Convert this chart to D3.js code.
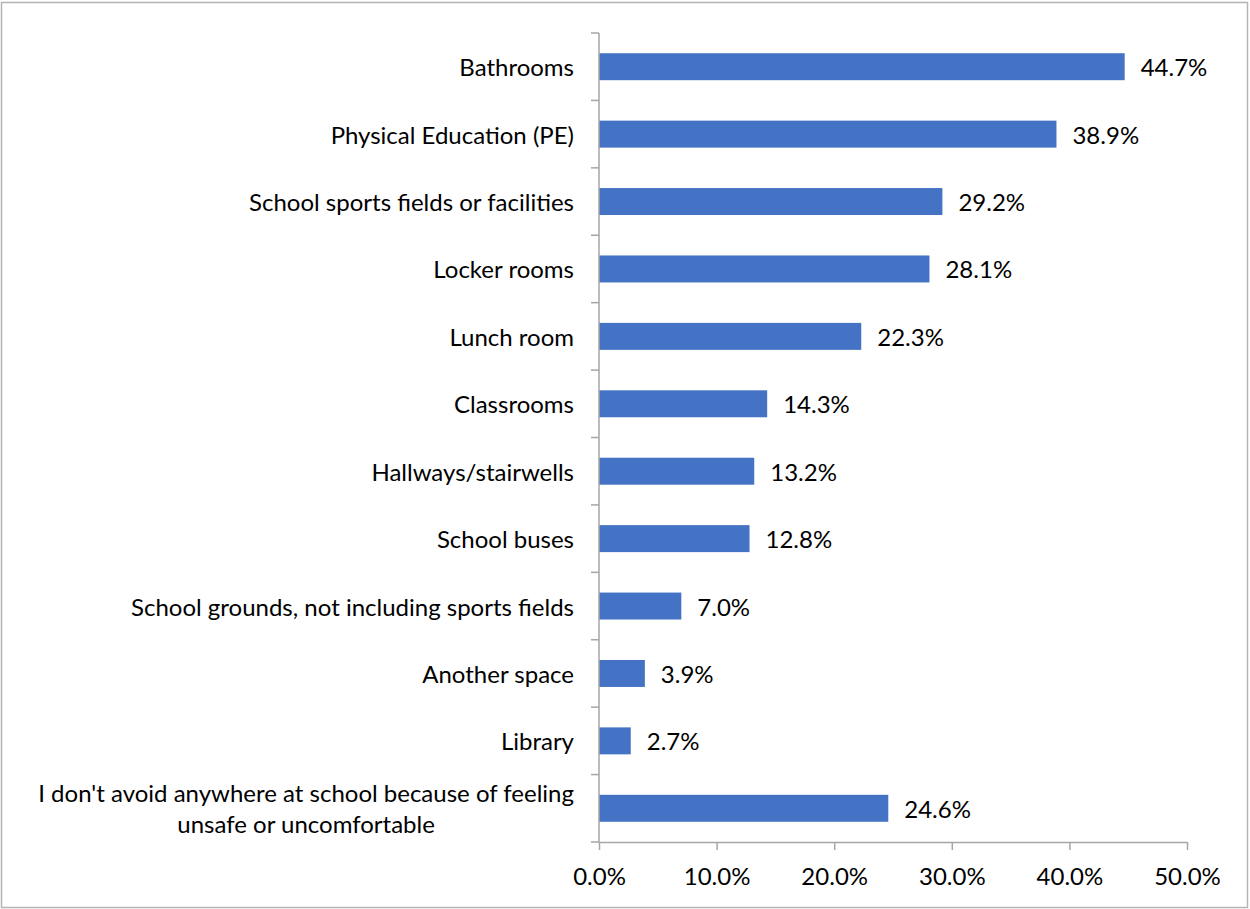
<!DOCTYPE html>
<html>
<head>
<meta charset="utf-8">
<script src="https://cdn.jsdelivr.net/npm/d3@7"></script>
<style>
  html, body { margin: 0; padding: 0; background: #fff; }
  svg { display: block; }
  text { font-family: Lato, "Open Sans", sans-serif; fill: #000; }
</style>
</head>
<body>
<svg id="chart" width="1250" height="909"></svg>
<script>
// Places at school students avoid because they feel unsafe or uncomfortable
const categories = [
  "Bathrooms",
  "Physical Education (PE)",
  "School sports fields or facilities",
  "Locker rooms",
  "Lunch room",
  "Classrooms",
  "Hallways/stairwells",
  "School buses",
  "School grounds, not including sports fields",
  "Another space",
  "Library",
  "I don't avoid anywhere at school because of feeling\nunsafe or uncomfortable"
];
const values = [44.7, 38.9, 29.2, 28.1, 22.3, 14.3, 13.2, 12.8, 7.0, 3.9, 2.7, 24.6];
const xTicks = [0, 10, 20, 30, 40, 50];

const W = 1250, H = 909;
const plot = { left: 599, right: 1187, top: 33, bottom: 842 };
const fontSize = 24;
const barColor = "#4472C4";
const axisColor = "#a6a6a6";

const svg = d3.select("#chart");

// outer chart frame
svg.append("rect")
  .attr("x", 1.5).attr("y", 2.5)
  .attr("width", W - 4).attr("height", H - 4)
  .attr("fill", "#fff")
  .attr("stroke", "#b4b4b4")
  .attr("stroke-width", 1.5);

const x = d3.scaleLinear().domain([0, 50]).range([plot.left, plot.right]);
const y = d3.scaleBand()
  .domain(categories)
  .range([plot.top, plot.bottom])
  .paddingInner(0.6)
  .paddingOuter(0.3);

// bars
svg.append("g").selectAll("rect")
  .data(categories)
  .join("rect")
  .attr("x", x(0))
  .attr("y", d => y(d))
  .attr("width", (d, i) => x(values[i]) - x(0))
  .attr("height", y.bandwidth())
  .attr("fill", barColor);

// value labels
svg.append("g").selectAll("text")
  .data(categories)
  .join("text")
  .attr("x", (d, i) => x(values[i]) + 16)
  .attr("y", d => y(d) + y.bandwidth() / 2)
  .attr("dominant-baseline", "central")
  .attr("font-size", fontSize)
  .text((d, i) => values[i].toFixed(1) + "%");

// x axis
const xAxis = svg.append("g")
  .attr("transform", `translate(0,${plot.bottom})`)
  .call(d3.axisBottom(x)
    .tickValues(xTicks)
    .tickSize(8)
    .tickSizeOuter(0)
    .tickPadding(18)
    .tickFormat(d => d.toFixed(1) + "%"));
xAxis.attr("font-family", null);
xAxis.select(".domain").attr("stroke", axisColor).attr("stroke-width", 1.5);
xAxis.selectAll(".tick line").attr("stroke", axisColor).attr("stroke-width", 1.5);
xAxis.selectAll(".tick text")
  .attr("font-size", fontSize)
  .attr("fill", "#000");

// y axis line with ticks on category boundaries
const yAxis = svg.append("g");
yAxis.append("line")
  .attr("x1", plot.left).attr("x2", plot.left)
  .attr("y1", plot.top).attr("y2", plot.bottom)
  .attr("stroke", axisColor).attr("stroke-width", 1.5);
const boundaries = d3.range(categories.length + 1).map(i => y.range()[0] + i * y.step());
yAxis.selectAll("line.tick")
  .data(boundaries)
  .join("line")
  .attr("class", "tick")
  .attr("x1", plot.left - 8).attr("x2", plot.left)
  .attr("y1", d => d).attr("y2", d => d)
  .attr("stroke", axisColor).attr("stroke-width", 1.5);

// category labels: right-aligned block, multi-line labels centred within it
const labelRight = 574;
const lineHeight = 31;
const catLabels = yAxis.append("g");
categories.forEach(cat => {
  const lines = cat.split("\n");
  const cy = y(cat) + y.bandwidth() / 2;
  const g = catLabels.append("g");
  const texts = lines.map((ln, j) => g.append("text")
    .attr("y", cy + (j - (lines.length - 1) / 2) * lineHeight)
    .attr("dominant-baseline", "central")
    .attr("font-size", fontSize)
    .text(ln));
  if (lines.length === 1) {
    texts[0].attr("x", labelRight).attr("text-anchor", "end");
  } else {
    const maxW = d3.max(texts, t => t.node().getComputedTextLength());
    texts.forEach(t => t.attr("x", labelRight - maxW / 2).attr("text-anchor", "middle"));
  }
});
</script>
</body>
</html>
